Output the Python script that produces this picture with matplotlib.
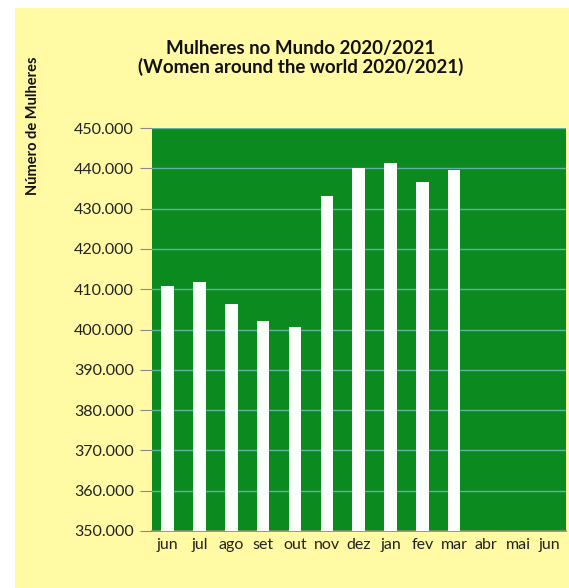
import matplotlib
matplotlib.use('Agg')
import matplotlib.pyplot as plt
from matplotlib.patches import Rectangle
from matplotlib.ticker import FuncFormatter

months = ["jun", "jul", "ago", "set", "out", "nov", "dez", "jan", "fev", "mar", "abr", "mai", "jun"]
women = [410800, 411800, 406400, 402100, 400500, 433100, 440000, 441400, 436500, 439700]

yellow = "#fffaa3"
green = "#0b8a1f"
grid_col = "#5fb59a"

fig = plt.figure(figsize=(5.69, 5.88), dpi=100, facecolor="white")
fig.patches.append(Rectangle((15 / 569, 0), 1, 580 / 588, transform=fig.transFigure,
                             facecolor=yellow, edgecolor="none", zorder=-10))

ax = fig.add_axes([151.7 / 569, 57 / 588, 414 / 569, 403 / 588])
ax.set_facecolor(green)
ax.bar(range(len(women)), women, width=0.39, color="#fbfffb", zorder=3)
ax.set_xlim(-0.5, len(months) - 0.5)
ax.set_ylim(350000, 450000)
ax.set_yticks(range(350000, 450001, 10000))
ax.yaxis.set_major_formatter(FuncFormatter(lambda v, p: f"{int(v):,}".replace(",", ".")))
ax.set_xticks(range(len(months)))
ax.set_xticklabels(months)
ax.grid(axis="y", color=grid_col, linewidth=1.0, zorder=1)
ax.set_axisbelow(True)

for side in ["top", "right", "left"]:
    ax.spines[side].set_visible(False)
ax.spines["bottom"].set_color("#8a8a6a")
ax.spines["bottom"].set_linewidth(1.2)
ax.tick_params(axis="y", length=9, width=0.8, color="#8a8a8a", labelsize=11.5, labelcolor="#222222", pad=4)
ax.tick_params(axis="x", length=0, labelsize=11.5, labelcolor="#222222", pad=5)
for lab in ax.get_xticklabels() + ax.get_yticklabels():
    lab.set_family("Lato")

fig.text(301 / 569, 1 - 58 / 588, "Mulheres no Mundo 2020/2021\n(Women around the world 2020/2021)",
         ha="center", va="center", fontsize=13.5, fontweight="bold", family="Lato",
         color="#111111", linespacing=1.1)
fig.text(33 / 569, 1 - 126 / 588, "Número de Mulheres", rotation=90, ha="center", va="center",
         fontsize=10.5, fontweight="bold", family="Lato", color="#111111")

plt.savefig("out.png", dpi=100, facecolor="white")
